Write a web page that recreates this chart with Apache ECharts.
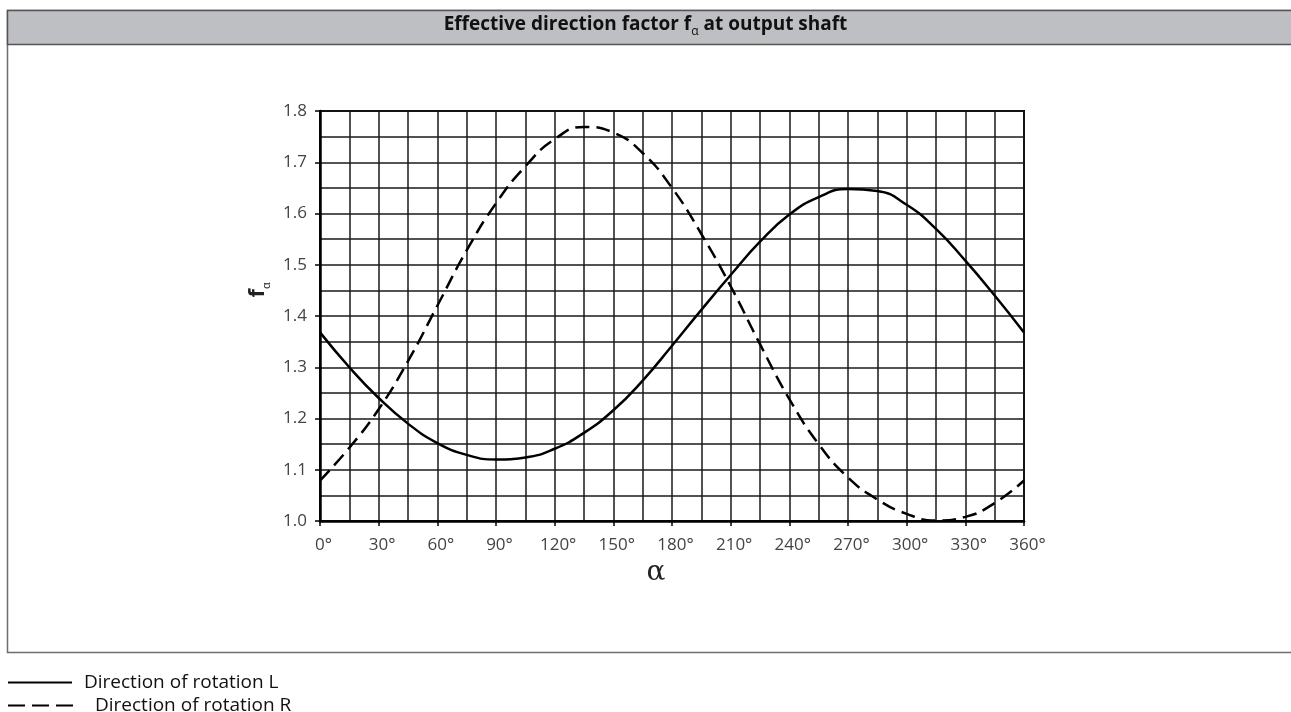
<!DOCTYPE html>
<html>
<head>
<meta charset="utf-8">
<script src="https://cdn.jsdelivr.net/npm/echarts@6/dist/echarts.min.js"></script>
<style>
html,body{margin:0;padding:0;background:#fff;}
#c{width:1291px;height:712px;}
</style>
</head>
<body>
<div id="c"></div>
<script>
// Data
var angles = [0, 15, 30, 45, 60, 75, 90, 105, 120, 135, 150, 165, 180, 195, 210, 225, 240, 255, 270, 285, 300, 315, 330, 345, 360];
var rotationL = [1.368, 1.300, 1.240, 1.190, 1.152, 1.129, 1.120, 1.124, 1.141, 1.172, 1.216, 1.274, 1.342, 1.412, 1.480, 1.545, 1.598, 1.632, 1.648, 1.644, 1.617, 1.570, 1.508, 1.440, 1.368];
var rotationR = [1.079, 1.143, 1.218, 1.312, 1.420, 1.528, 1.620, 1.692, 1.745, 1.769, 1.758, 1.718, 1.650, 1.560, 1.458, 1.345, 1.238, 1.150, 1.085, 1.042, 1.014, 1.001, 1.008, 1.035, 1.079];
var xTickLabels = ['0°','30°','60°','90°','120°','150°','180°','210°','240°','270°','300°','330°','360°'];
var seriesNames = ['Direction of rotation L', 'Direction of rotation R'];
var titleMain = 'Effective direction factor f';
var titleSub = 'α';
var titleEnd = ' at output shaft';

function pairs(xs, ys){ return xs.map(function(x,i){ return [x, ys[i]]; }); }

var chart = echarts.init(document.getElementById('c'), null, {renderer:'canvas'});
var font = '"Open Sans", "Noto Sans", sans-serif';
chart.setOption({
  animation: false,
  backgroundColor: '#fff',
  graphic: [
    {type:'rect', shape:{x:7.5, y:10.5, width:1290, height:642}, style:{fill:'none', stroke:'#6e6e6e', lineWidth:1.5}, z:-10},
    {type:'rect', shape:{x:7.5, y:10.5, width:1290, height:34}, style:{fill:'#bebfc3', stroke:'#555', lineWidth:1.5}, z:-9}
  ],
  title: {
    text: '{m|' + titleMain + '}{s|' + titleSub + '}{m|' + titleEnd + '}',
    left: 'center', top: 5,
    textStyle: {
      rich: {
        m: {fontFamily: font, fontWeight: 'bold', fontSize: 19, color: '#111', lineHeight: 24, verticalAlign: 'bottom'},
        s: {fontFamily: font, fontWeight: 'normal', fontSize: 12, color: '#111', lineHeight: 24, verticalAlign: 'bottom', padding:[0,0,-4,0]}
      }
    }
  },
  legend: [
    {left: 7, top: 673, padding: 0, itemWidth: 64, itemHeight: 14,
     itemStyle: {opacity: 0},
     textStyle: {fontFamily: font, fontSize: 19, color: '#111', padding: [0,0,0,7]},
     data: [seriesNames[0]]},
    {left: 7, top: 696, padding: 0, itemWidth: 65, itemHeight: 14,
     itemStyle: {opacity: 0},
     lineStyle: {type: [17, 7]},
     textStyle: {fontFamily: font, fontSize: 19, color: '#111', padding: [0,0,0,17]},
     data: [seriesNames[1]]}
  ],
  grid: {left: 320, right: 267, top: 111, bottom: 191, show: true, borderColor: '#000', borderWidth: 2},
  xAxis: {
    type: 'value', min: 0, max: 360, interval: 30,
    name: 'α', nameLocation: 'middle', nameGap: 34,
    nameTextStyle: {fontFamily: '"DejaVu Serif", serif', fontSize: 28, color: '#222', padding: [0, 32, 0, 0]},
    axisLine: {show: true, lineStyle: {color: '#000', width: 2.5}},
    axisTick: {show: true, length: 5, lineStyle: {color: '#000', width: 1.5}},
    axisLabel: {fontFamily: font, fontSize: 17, color: '#444', margin: 16, padding: [0, 0, 0, 7],
      formatter: function(v){ return xTickLabels[Math.round(v/30)]; }},
    splitLine: {show: true, lineStyle: {color: '#1a1a1a', width: 1.5}},
    minorTick: {show: true, splitNumber: 2, length: 0},
    minorSplitLine: {show: true, lineStyle: {color: '#1a1a1a', width: 1.5}}
  },
  yAxis: {
    type: 'value', min: 1.0, max: 1.8, interval: 0.1,
    name: '{b|f}{s|α}', nameLocation: 'middle', nameGap: 50, nameRotate: 90,
    nameTextStyle: {
      padding: [0, 0, 0, 52],
      rich: {
        b: {fontFamily: font, fontWeight: 'bold', fontSize: 22, color: '#222', lineHeight: 26, verticalAlign: 'bottom'},
        s: {fontFamily: font, fontSize: 11, color: '#222', lineHeight: 26, verticalAlign: 'bottom', padding:[0,0,-3,0]}
      }
    },
    axisLine: {show: true, lineStyle: {color: '#000', width: 2.5}},
    axisTick: {show: true, length: 5, lineStyle: {color: '#000', width: 1.5}},
    axisLabel: {fontFamily: font, fontSize: 17, color: '#444', margin: 13,
      formatter: function(v){ return v.toFixed(1); }},
    splitLine: {show: true, lineStyle: {color: '#1a1a1a', width: 1.5}},
    minorTick: {show: true, splitNumber: 2, length: 0},
    minorSplitLine: {show: true, lineStyle: {color: '#1a1a1a', width: 1.5}}
  },
  series: [
    {name: seriesNames[0], type: 'line', smooth: 0.5, symbol: 'none', data: pairs(angles, rotationL),
     lineStyle: {color: '#000', width: 2.5, type: 'solid'}, itemStyle: {color: '#000'}, z: 5},
    {name: seriesNames[1], type: 'line', smooth: 0.5, symbol: 'none', data: pairs(angles, rotationR),
     lineStyle: {color: '#000', width: 2.5, type: [14, 7]}, itemStyle: {color: '#000'}, z: 5}
  ]
});
</script>
</body>
</html>
